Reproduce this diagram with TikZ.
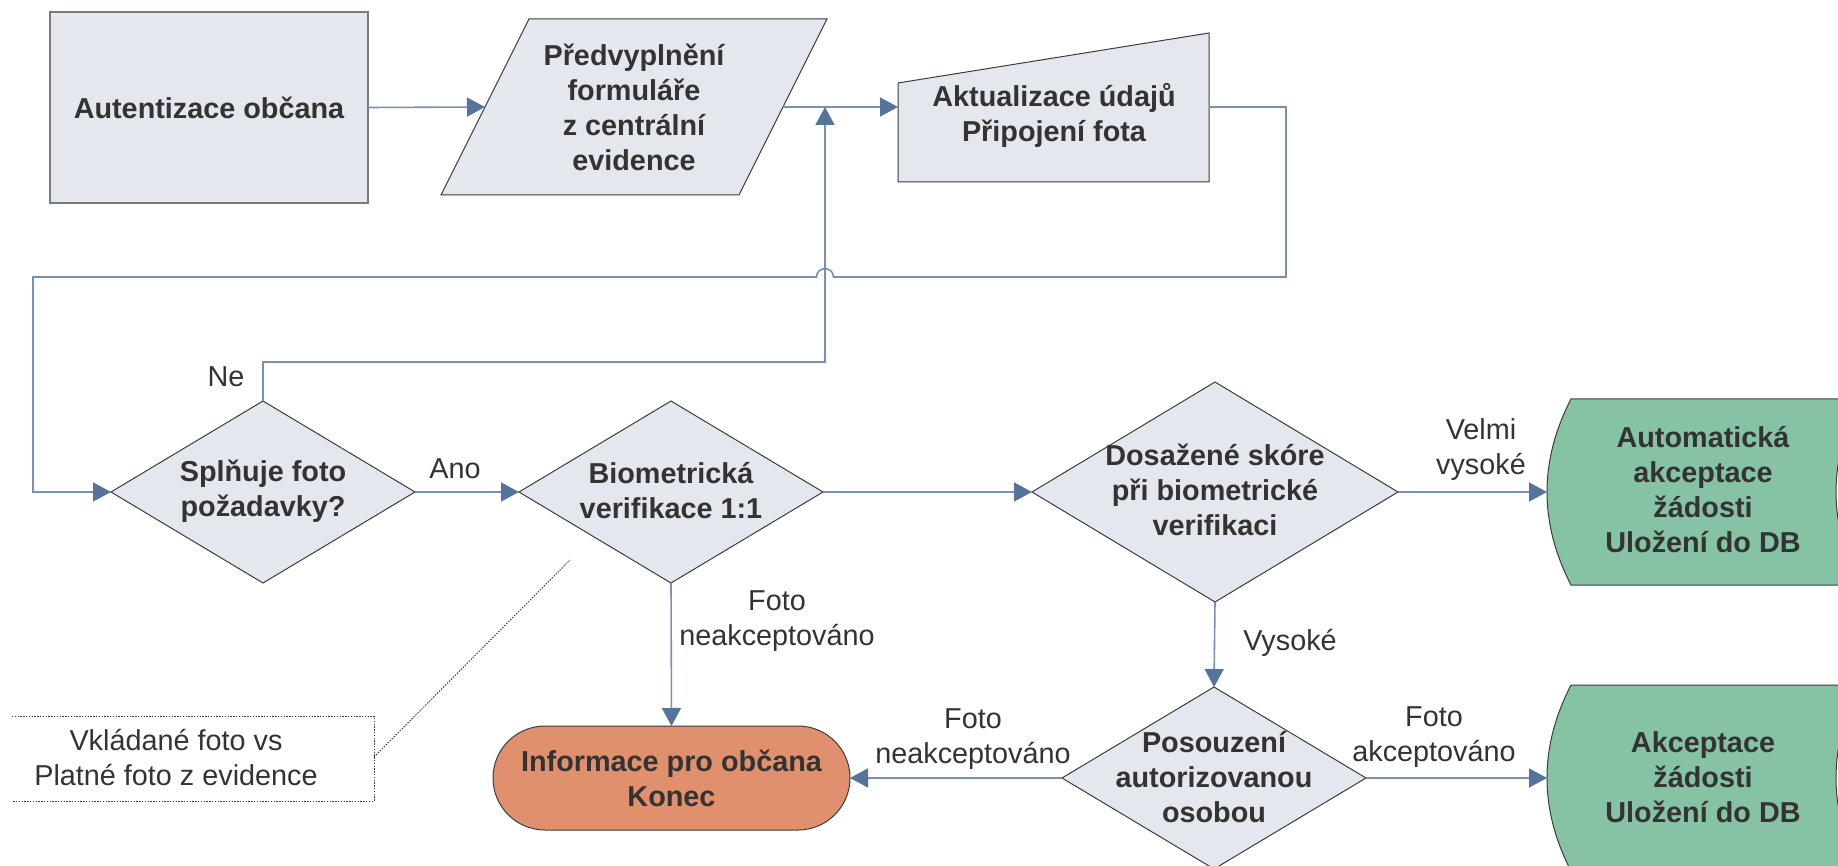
\documentclass[tikz,border=0pt]{standalone}
\usepackage{fontspec}
\setmainfont{Liberation Sans}
\usetikzlibrary{arrows.meta,shapes.geometric}
\definecolor{shfill}{HTML}{E4E7EE}
\definecolor{shdraw}{HTML}{3C3C3C}
\definecolor{boxdraw}{HTML}{7A7A7A}
\definecolor{txt}{HTML}{333333}
\definecolor{connc}{HTML}{7890B8}
\definecolor{arrc}{HTML}{56739C}
\definecolor{orng}{HTML}{E0906D}
\definecolor{grn}{HTML}{86C2A4}
\tikzset{
 shp/.style={fill=shfill, draw=shdraw, line width=0.5pt},
 lbl/.style={font=\fontsize{14.4}{17.5}\selectfont, text=txt, align=center, inner sep=0pt},
 blbl/.style={lbl, font=\fontsize{14.4}{17.5}\selectfont\bfseries},
 connline/.style={draw=connc, line width=0.8pt},
 arrowline/.style={connline, -{Triangle[length=9pt,width=9.5pt,color=arrc]}},
 diam/.style={shp, diamond, inner sep=0pt, outer sep=0pt},
 annot/.style={draw=shdraw, line width=0.5pt, dash pattern=on 0.7pt off 0.7pt},
}
\begin{document}
\begin{tikzpicture}[x=0.5pt,y=-0.5pt]
\useasboundingbox (0,0) rectangle (1838,866);
\clip (0,0) rectangle (1838,866);
% start box
\node[shp, draw=boxdraw, line width=0.8pt, rectangle, minimum width=159pt, minimum height=95.5pt, outer sep=0pt, blbl] (a) at (209,107.5) {Autentizace občana};
% parallelogram
\path[shp] (529,19) -- (827,19) -- (739,195) -- (441,195) -- cycle;
\coordinate (pw) at (485,107);
\coordinate (pe) at (783,107);
\node[blbl] (p) at (634,107) {Předvyplnění\\formuláře\\z centrální\\evidence};
% manual input
\path[shp] (898,83) -- (1209,33) -- (1209,182) -- (898,182) -- cycle;
\coordinate (tw) at (898,107);
\coordinate (te) at (1209,107);
\node[blbl] (t) at (1054,115.5) {Aktualizace údajů\\Připojení fota};
% diamonds
\node[diam, minimum width=152pt, minimum height=91pt] (d1) at (263,492) {};
\node[blbl] (d1t) at (263,491) {Splňuje foto\\požadavky?};
\node[diam, minimum width=152pt, minimum height=91pt] (d2) at (671,492) {};
\node[blbl] (d2t) at (671,491) {Biometrická\\verifikace 1:1};
\node[diam, minimum width=183pt, minimum height=110pt] (d3) at (1215,492) {};
\node[blbl] (d3t) at (1215,490) {Dosažené skóre\\při biometrické\\verifikaci};
\node[diam, minimum width=152pt, minimum height=91pt] (d4) at (1214,778) {};
\node[blbl] (d4t) at (1214,777) {Posouzení\\autorizovanou\\osobou};
% terminator
\node[shp, fill=orng, rectangle, rounded corners=26pt, minimum width=178.5pt, minimum height=52pt, outer sep=0pt, blbl] (term) at (671.5,778) {Informace pro občana\\Konec};
% stored data shapes
\path[shp, fill=grn] (1571,399) -- (1860,399) .. controls (1828,461) and (1828,523) .. (1860,585) -- (1571,585) .. controls (1539,523) and (1539,461) .. (1571,399) -- cycle;
\coordinate (g1w) at (1547,492);
\node[blbl] (g1) at (1703,490) {Automatická\\akceptace\\žádosti\\Uložení do DB};
\path[shp, fill=grn] (1571,685) -- (1860,685) .. controls (1828,747) and (1828,809) .. (1860,871) -- (1571,871) .. controls (1539,809) and (1539,747) .. (1571,685) -- cycle;
\coordinate (g2w) at (1547,778);
\node[blbl] (g2) at (1703,777) {Akceptace\\žádosti\\Uložení do DB};
% connectors
\coordinate (mid) at (825,107);
\draw[arrowline] (a.east) -- (pw);
\draw[arrowline] (pe) -- (tw);
\draw[arrowline] (d1.north) -- ++(0,-39) -| (mid);
\draw[arrowline] (te) -- (1286,107) -- (1286,277) -- (833.5,277) .. controls (833.5,266) and (816.5,266) .. (816.5,277) -- (33,277) |- (d1.west);
\draw[arrowline] (d1.east) -- (d2.west);
\draw[arrowline] (d2.south) -- (term.north);
\draw[arrowline] (d2.east) -- (d3.west);
\draw[arrowline] (d3.east) -- (g1w);
\draw[arrowline] (d3.south) -- (d4.north);
\draw[arrowline] (d4.west) -- (term.east);
\draw[arrowline] (d4.east) -- (g2w);
% labels
\node[lbl] (ne) at (226,377) {Ne};
\node[lbl] (ano) at (455,469) {Ano};
\node[lbl] (l1) at (777,621) {Foto\\neakceptováno};
\node[lbl] (l2) at (1481,450) {Velmi\\vysoké};
\node[lbl] (l3) at (1290,643) {Vysoké};
\node[lbl] (l4) at (973,739) {Foto\\neakceptováno};
\node[lbl] (l5) at (1434,737) {Foto\\akceptováno};
% annotation
\draw[annot] (12,716) -- (374,716) -- (374,801) -- (12,801);
\node[lbl] (ann) at (176,758) {Vkládané foto vs\\Platné foto z evidence};
\coordinate (annc) at (374,757);
\coordinate (annt) at (570,560);
\draw[annot] (annc) -- (annt);
\end{tikzpicture}
\end{document}
